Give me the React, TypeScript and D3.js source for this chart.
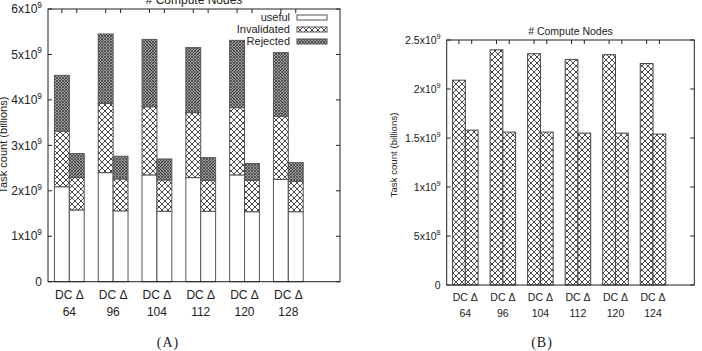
import * as d3 from "d3";

const groupsA = ["64", "96", "104", "112", "120", "128"];
const groupsB = ["64", "96", "104", "112", "120", "124"];
const barNames = ["DC", "Δ"];
const seriesA = ["useful", "Invalidated", "Rejected"];

// chart A, stacked tops (x 1e9)
const usefulDC = [2.09, 2.40, 2.35, 2.29, 2.35, 2.25];
const invalDC = [1.22, 1.52, 1.50, 1.43, 1.48, 1.39];
const rejectDC = [1.23, 1.53, 1.48, 1.43, 1.48, 1.40];
const usefulD = [1.58, 1.56, 1.55, 1.55, 1.54, 1.54];
const invalD = [0.71, 0.70, 0.69, 0.68, 0.69, 0.67];
const rejectD = [0.53, 0.50, 0.46, 0.50, 0.37, 0.41];

// chart B
const countDC = [2.09, 2.40, 2.36, 2.30, 2.35, 2.26];
const countD = [1.58, 1.56, 1.56, 1.55, 1.55, 1.54];

const ticksA = [0, 1, 2, 3, 4, 5, 6];
const ticksB = [0, 0.5, 1, 1.5, 2, 2.5];

const font = "'Liberation Sans', Arial, sans-serif";
const BW = 0.34;

const tickLabel = (v: number, fs: number) => {
  if (v === 0) return <tspan>0</tspan>;
  const mant = v >= 1 ? `${v}` : `${v * 10}`;
  const exp = v >= 1 ? "9" : "8";
  return (
    <>
      <tspan>{mant}x10</tspan>
      <tspan dy={-fs * 0.45} fontSize={fs * 0.7}>{exp}</tspan>
    </>
  );
};

function Frame(props: {
  x: d3.ScaleLinear<number, number>;
  y: d3.ScaleLinear<number, number>;
  ticks: number[];
  groups: string[];
  fs: number;
  title: string;
  titleY: number;
  catY: [number, number];
  ylabX: number;
  ylabY: number;
  caption: string;
  capX: number;
  capY: number;
}) {
  const { x, y, ticks, groups, fs } = props;
  const [x0, x1] = x.range();
  const [y0, y1] = y.range();
  const centers: number[] = [];
  groups.forEach((_, i) => {
    centers.push(x(i - BW / 2), x(i + BW / 2));
  });
  return (
    <g fontFamily={font} fontSize={fs} fill="#222">
      <rect x={x0} y={y1} width={x1 - x0} height={y0 - y1} fill="none" stroke="#222" strokeWidth={1} />
      {ticks.map((t) => (
        <g key={t}>
          <line x1={x0} x2={x0 + 4} y1={y(t * 1e9)} y2={y(t * 1e9)} stroke="#222" />
          <line x1={x1} x2={x1 - 4} y1={y(t * 1e9)} y2={y(t * 1e9)} stroke="#222" />
          <text x={x0 - 6} y={y(t * 1e9) + fs * 0.35} textAnchor="end">
            {tickLabel(t, fs)}
          </text>
        </g>
      ))}
      {centers.map((c, i) => (
        <line key={i} x1={c} x2={c} y1={y1} y2={y1 + 4} stroke="#222" />
      ))}
      {groups.map((g, i) => (
        <g key={g}>
          <text x={x(i)} y={props.catY[0]} textAnchor="middle">
            {barNames.join(" ")}
          </text>
          <text x={x(i)} y={props.catY[1]} textAnchor="middle">
            {g}
          </text>
        </g>
      ))}
      <text x={(x0 + x1) / 2} y={props.titleY} textAnchor="middle">
        {props.title}
      </text>
      <text
        transform={`translate(${props.ylabX},${props.ylabY}) rotate(-90)`}
        textAnchor="middle"
        fontSize={fs * 0.92}
      >
        Task count (billions)
      </text>
      <text
        x={props.capX}
        y={props.capY}
        textAnchor="middle"
        fontFamily="'Liberation Serif', 'DejaVu Serif', serif"
        fontSize={14}
        letterSpacing={1}
      >
        {props.caption}
      </text>
    </g>
  );
}

export default function App() {
  const xA = d3.scaleLinear().domain([-0.487, 6.18]).range([48, 340]);
  const yA = d3.scaleLinear().domain([0, 6e9]).range([281.7, 9]);
  const xB = d3.scaleLinear().domain([-0.496, 6.1]).range([446.7, 694.3]);
  const yB = d3.scaleLinear().domain([0, 2.5e9]).range([285, 40]);

  const fills = ["#fff", "url(#inval)", "url(#reject)"];
  const stackDC = groupsA.map((_, i) => [usefulDC[i], invalDC[i], rejectDC[i]]);
  const stackD = groupsA.map((_, i) => [usefulD[i], invalD[i], rejectD[i]]);

  const stackBars = (vals: number[][], off: number, key: string) =>
    vals.map((row, i) => {
      let base = 0;
      return row.map((v, k) => {
        const lo = base;
        base += v;
        return (
          <rect
            key={`${key}${i}-${k}`}
            x={xA(i + off)}
            width={xA(BW) - xA(0)}
            y={yA(base * 1e9)}
            height={yA(lo * 1e9) - yA(base * 1e9)}
            fill={fills[k]}
            stroke="#555"
            strokeWidth={1}
          />
        );
      });
    });

  const legY = [15, 27, 39];

  return (
    <svg
      width={702}
      height={351}
      style={{ position: "absolute", left: 0, top: 0, display: "block", background: "#fff" }}
    >
      <defs>
        <pattern id="inval" width={6} height={6} patternUnits="userSpaceOnUse">
          <rect width={6} height={6} fill="#fff" />
          <path d="M0,0 L6,6 M6,0 L0,6 M-1,5 L1,7 M5,-1 L7,1 M-1,1 L1,-1 M5,7 L7,5" stroke="#333" strokeWidth={0.9} />
        </pattern>
        <pattern id="reject" width={3} height={3} patternUnits="userSpaceOnUse">
          <rect width={3} height={3} fill="#999" />
          <path d="M0,0 L3,3 M3,0 L0,3" stroke="#444" strokeWidth={0.8} />
        </pattern>
      </defs>

      {stackBars(stackDC, -BW, "dc")}
      {stackBars(stackD, 0, "d")}

      {seriesA.map((s, k) => (
        <g key={s}>
          <text x={290} y={legY[k] + 6} textAnchor="end" fontFamily={font} fontSize={11} fill="#222">
            {s}
          </text>
          <rect x={297} y={legY[k]} width={30} height={5} fill={fills[k]} stroke="#555" />
        </g>
      ))}

      <Frame
        x={xA}
        y={yA}
        ticks={ticksA}
        groups={groupsA}
        fs={12}
        title="# Compute Nodes"
        titleY={4}
        catY={[299, 316]}
        ylabX={7}
        ylabY={145}
        caption="(A)"
        capX={168}
        capY={347}
      />

      {groupsB.map((_, i) => (
        <g key={i}>
          <rect
            x={xB(i - BW)}
            width={xB(BW) - xB(0)}
            y={yB(countDC[i] * 1e9)}
            height={yB(0) - yB(countDC[i] * 1e9)}
            fill="url(#inval)"
            stroke="#444"
          />
          <rect
            x={xB(i)}
            width={xB(BW) - xB(0)}
            y={yB(countD[i] * 1e9)}
            height={yB(0) - yB(countD[i] * 1e9)}
            fill="url(#inval)"
            stroke="#444"
          />
        </g>
      ))}

      <Frame
        x={xB}
        y={yB}
        ticks={ticksB}
        groups={groupsB}
        fs={10.5}
        title="# Compute Nodes"
        titleY={35}
        catY={[300.5, 316.5]}
        ylabX={397}
        ylabY={155}
        caption="(B)"
        capX={542}
        capY={347}
      />
    </svg>
  );
}
